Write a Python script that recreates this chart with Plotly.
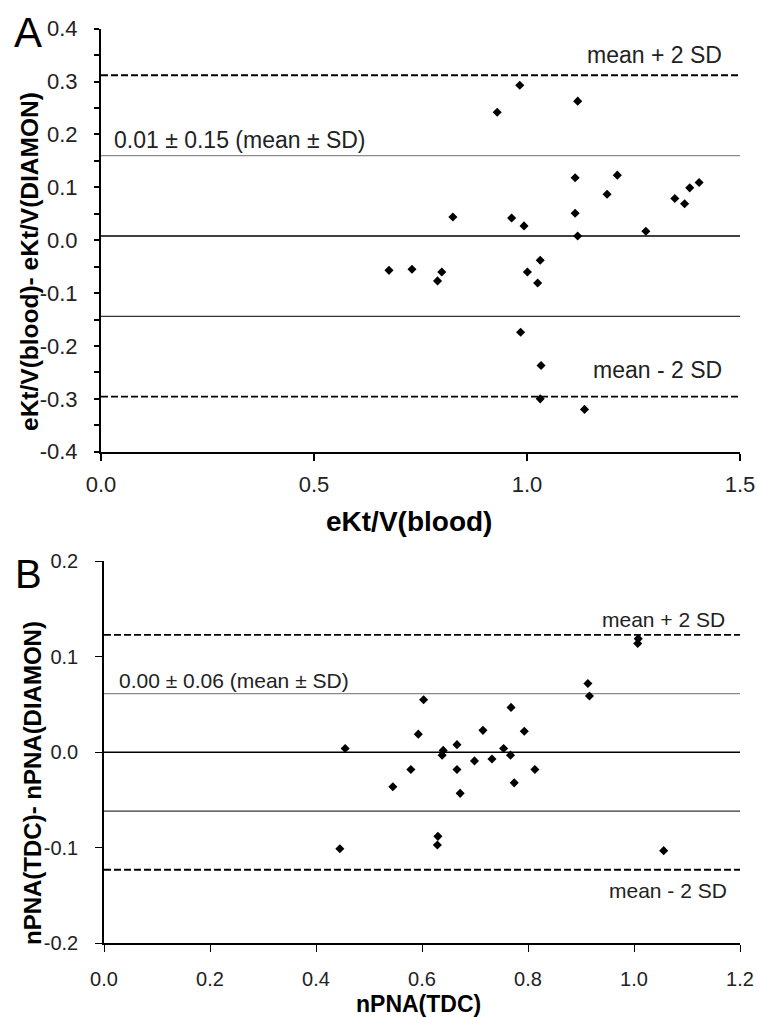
import plotly.graph_objects as go

# ---------------- Data: panel A ----------------
a_x = [0.983, 0.930, 1.119, 1.113, 1.212, 1.188, 1.347, 1.370, 1.382, 1.404,
       0.826, 0.964, 0.993, 1.113, 1.119, 1.279, 0.676, 0.730, 0.800, 0.790,
       1.001, 1.031, 1.025, 0.985, 1.033, 1.031, 1.135]
a_y = [0.293, 0.242, 0.263, 0.118, 0.123, 0.087, 0.079, 0.069, 0.099, 0.109,
       0.044, 0.042, 0.027, 0.051, 0.008, 0.017, -0.057, -0.055, -0.060, -0.077,
       -0.060, -0.038, -0.081, -0.174, -0.237, -0.300, -0.320]
a_mean = 0.008
a_sd = 0.152
a_xrange = [0.0, 1.5]
a_yrange = [-0.4, 0.4]
a_xticks = [0.0, 0.5, 1.0, 1.5]
a_xticktext = ["0.0", "0.5", "1.0", "1.5"]
a_yticks = [-0.4, -0.3, -0.2, -0.1, 0.0, 0.1, 0.2, 0.3, 0.4]
a_yticktext = ["-0.4", "-0.3", "-0.2", "-0.1", "0.0", "0.1", "0.2", "0.3", "0.4"]

# ---------------- Data: panel B ----------------
b_x = [0.603, 0.455, 0.593, 0.579, 0.545, 0.640, 0.638, 0.666, 0.666, 0.672,
       0.699, 0.715, 0.732, 0.754, 0.767, 0.768, 0.793, 0.774, 0.813, 0.445,
       0.630, 0.629, 0.913, 0.916, 1.008, 1.007, 1.056]
b_y = [0.055, 0.004, 0.019, -0.018, -0.036, 0.002, -0.003, 0.008, -0.018, -0.043,
       -0.009, 0.023, -0.007, 0.004, -0.003, 0.047, 0.022, -0.032, -0.018, -0.101,
       -0.088, -0.097, 0.072, 0.059, 0.119, 0.114, -0.103]
b_mean = 0.0
b_sd = 0.0615
b_xrange = [0.0, 1.2]
b_yrange = [-0.2, 0.2]
b_xticks = [0.0, 0.2, 0.4, 0.6, 0.8, 1.0, 1.2]
b_xticktext = ["0.0", "0.2", "0.4", "0.6", "0.8", "1.0", "1.2"]
b_yticks = [-0.2, -0.1, 0.0, 0.1, 0.2]
b_yticktext = ["-0.2", "-0.1", "0.0", "0.1", "0.2"]

W, H = 757, 1017
FONT = "Arial, Liberation Sans, sans-serif"

def px(x):
    return x / W

def py(y):
    return 1 - y / H

fig = go.Figure()

def add_panel(xs, ys, mean, sd, xr, xa, ya):
    specs = [
        (mean + 2 * sd, "black", 1.8, "7px,3px"),
        (mean + sd, "#8a8a8a", 1.3, "solid"),
        (mean, "black", 1.6, "solid"),
        (mean - sd, "#333333", 1.3, "solid"),
        (mean - 2 * sd, "black", 1.8, "7px,3px"),
    ]
    for yv, col, w, dash in specs:
        fig.add_trace(go.Scatter(x=xr, y=[yv, yv], mode="lines", xaxis=xa, yaxis=ya,
                                 line=dict(color=col, width=w, dash=dash),
                                 showlegend=False, hoverinfo="skip"))
    fig.add_trace(go.Scatter(x=xs, y=ys, mode="markers", xaxis=xa, yaxis=ya,
                             marker=dict(symbol="diamond", size=7, color="black"),
                             showlegend=False))

add_panel(a_x, a_y, a_mean, a_sd, a_xrange, "x", "y")
add_panel(b_x, b_y, b_mean, b_sd, b_xrange, "x2", "y2")

tickfontA = dict(family=FONT, size=22, color="#222")
tickfontB = dict(family=FONT, size=20, color="#222")

fig.update_layout(
    template="none",
    width=W, height=H,
    margin=dict(l=0, r=0, t=0, b=0, pad=0, autoexpand=False),
    paper_bgcolor="white", plot_bgcolor="white",
    showlegend=False,
    xaxis=dict(domain=[px(101), px(740)], range=a_xrange, anchor="y", automargin=False,
               tickvals=a_xticks, ticktext=a_xticktext, ticks="outside", ticklen=7,
               tickwidth=2, tickcolor="black", showline=True, linewidth=2, linecolor="black",
               showgrid=False, zeroline=False, tickfont=tickfontA,
               ticklabelstandoff=5),
    yaxis=dict(domain=[py(451.7), py(28.7)], range=a_yrange, anchor="x", automargin=False,
               tickvals=a_yticks, ticktext=a_yticktext, ticks="outside", ticklen=5,
               tickwidth=1.5, tickcolor="black", showline=True, linewidth=2, linecolor="black",
               showgrid=False, zeroline=False, tickfont=tickfontA,
               minor=dict(dtick=0.05, ticks="outside", ticklen=5, tickwidth=1.5,
                          tickcolor="black", showgrid=False),
               ticklabelstandoff=12),
    xaxis2=dict(domain=[px(104), px(740)], range=b_xrange, anchor="y2", automargin=False,
                tickvals=b_xticks, ticktext=b_xticktext, ticks="outside", ticklen=7,
                tickwidth=1.2, tickcolor="black", showline=True, linewidth=1.5, linecolor="black",
                showgrid=False, zeroline=False, tickfont=tickfontB,
                ticklabelstandoff=10),
    yaxis2=dict(domain=[py(943.3), py(561.3)], range=b_yrange, anchor="x2", automargin=False,
                tickvals=b_yticks, ticktext=b_yticktext, ticks="outside", ticklen=7,
                tickwidth=1.2, tickcolor="black", showline=True, linewidth=1.5, linecolor="black",
                showgrid=False, zeroline=False, tickfont=tickfontB,
                ticklabelstandoff=13),
)

ann = []
def text(x, y, s, size, bold=False, angle=0, xanchor="center", yanchor="middle",
         xref="paper", yref="paper", color="#222"):
    ann.append(dict(x=x, y=y, xref=xref, yref=yref, text=("<b>%s</b>" % s) if bold else s,
                    showarrow=False, textangle=angle, xanchor=xanchor, yanchor=yanchor,
                    font=dict(family=FONT, size=size, color=color)))

text(px(28), py(32), "A", 42, color="black")
text(px(28), py(574), "B", 40, color="black")

text(px(30), py(262), "eKt/V(blood)- eKt/V(DIAMON)", 24.5, bold=True, angle=-90, color="black")
text(px(409), py(521), "eKt/V(blood)", 28, bold=True, color="black")
text(px(32), py(783), "nPNA(TDC)- nPNA(DIAMON)", 24, bold=True, angle=-90, color="black")
text(px(418), py(1004), "nPNA(TDC)", 23, bold=True, color="black")

text(1.462, a_mean + 2 * a_sd + 0.010, "mean + 2 SD", 23, xanchor="right", yanchor="bottom",
     xref="x", yref="y")
text(0.026, a_mean + a_sd + 0.002, "0.01 ± 0.15 (mean ± SD)", 23, xanchor="left",
     yanchor="bottom", xref="x", yref="y")
text(1.462, a_mean - 2 * a_sd + 0.022, "mean - 2 SD", 23, xanchor="right", yanchor="bottom",
     xref="x", yref="y")

text(1.176, b_mean + 2 * b_sd + 0.002, "mean + 2 SD", 21, xanchor="right", yanchor="bottom",
     xref="x2", yref="y2")
text(0.024, b_mean + b_sd + 0.0, "0.00 ± 0.06 (mean ± SD)", 21, xanchor="left",
     yanchor="bottom", xref="x2", yref="y2")
text(1.180, b_mean - 2 * b_sd - 0.008, "mean - 2 SD", 21, xanchor="right", yanchor="top",
     xref="x2", yref="y2")

fig.update_layout(annotations=ann)

fig.write_html("out.html", config={"displayModeBar": False},
               post_script="document.body.style.margin='0';")
